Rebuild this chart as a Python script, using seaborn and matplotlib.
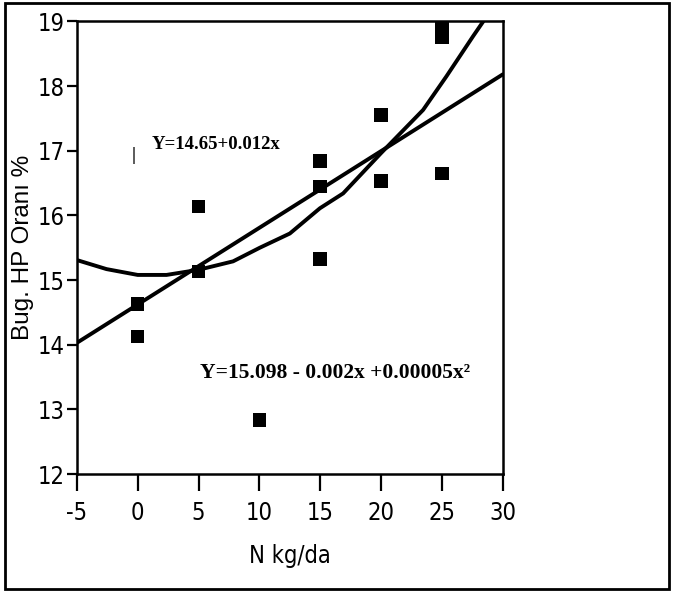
import matplotlib
matplotlib.use("Agg")
import matplotlib.pyplot as plt
import matplotlib.patches as patches
from matplotlib import font_manager
import pandas as pd
import seaborn as sns

# measured points (N dose, %)
n_dose = [0, 0, 5, 5, 10, 15, 15, 15, 20, 20, 25, 25, 25]
hp_ratio = [14.63, 14.13, 16.14, 15.13, 12.84, 16.84, 16.45, 15.33, 17.55, 16.53, 18.95, 18.75, 16.65]

# fitted lines
lin_x = [-5, 30]
lin_y = [14.03, 18.18]
quad_x = [-5, -2.56, 0, 2.37, 5.02, 7.84, 10.03, 12.5, 14.97, 16.88, 19.98, 23.45, 25.37, 27.56, 28.4]
quad_y = [15.31, 15.17, 15.08, 15.08, 15.16, 15.29, 15.5, 15.72, 16.11, 16.34, 16.96, 17.63, 18.15, 18.77, 19.0]

x_ticks = [-5, 0, 5, 10, 15, 20, 25, 30]
y_ticks = [12, 13, 14, 15, 16, 17, 18, 19]

sns.set_style("white")
fonts = font_manager.fontManager.ttflist
names = {f.name for f in fonts}
if "Liberation Sans Narrow" in names:
    tick_font = dict(family=["Liberation Sans Narrow", "DejaVu Sans"])
elif any(f.name == "DejaVu Sans" and f.stretch == "condensed" for f in fonts):
    tick_font = dict(family=["DejaVu Sans"], stretch="condensed")
else:
    tick_font = dict(family=["Liberation Sans", "DejaVu Sans"])
plt.rcParams["font.family"] = ["Liberation Sans", "DejaVu Sans"]
plt.rcParams["axes.unicode_minus"] = False
plt.rcParams["text.color"] = "black"
plt.rcParams["axes.labelcolor"] = "black"

fig = plt.figure(figsize=(6.74, 5.92), dpi=100)
ax = fig.add_axes([0.114, 0.199, 0.632, 0.765])

pts = pd.DataFrame({"N": n_dose, "HP": hp_ratio})
sns.scatterplot(data=pts, x="N", y="HP", marker="s", s=95, color="black",
                edgecolor="none", ax=ax, zorder=3)
sns.lineplot(x=lin_x, y=lin_y, color="black", lw=2.8, ax=ax)
sns.lineplot(x=quad_x, y=quad_y, color="black", lw=2.8, ax=ax)

ax.set_xlim(-5, 30)
ax.set_ylim(12, 19)
ax.set_xticks(x_ticks)
ax.set_yticks(y_ticks)
ax.set_xticklabels([str(t) for t in x_ticks], fontsize=17, **tick_font)
ax.set_yticklabels([str(t) for t in y_ticks], fontsize=17, **tick_font)
ax.tick_params(axis="x", direction="out", length=12, width=1.6, pad=7,
               bottom=True, colors="black")
ax.tick_params(axis="y", direction="out", length=7, width=1.6, pad=2,
               left=True, colors="black")
for sp in ax.spines.values():
    sp.set_visible(True)
    sp.set_color("black")
    sp.set_linewidth(1.8)

ax.set_xlabel("N kg/da", fontsize=17, labelpad=14, color="black", **tick_font)
ax.set_ylabel("Bug. HP Oranı %", fontsize=17.5, color="black")
ax.yaxis.set_label_coords(-0.1, 0.5)

eq_font = ["Liberation Serif", "DejaVu Serif"]
ax.text(1.15, 17.1, "Y=14.65+0.012x", fontsize=13.5, fontweight="bold",
        family=eq_font, va="center", ha="left", color="black")
ax.text(5.1, 13.56, "Y=15.098 - 0.002x +0.00005x²", fontsize=15.5,
        fontweight="bold", family=eq_font, va="center", ha="left", color="black")
ax.text(-0.35, 16.93, "|", fontsize=13, fontweight="bold", family=eq_font,
        va="center", ha="center", color="black")

fig.patches.append(patches.Rectangle((5 / 674, 3 / 592), 664 / 674, 586 / 592,
                                     transform=fig.transFigure, fill=False,
                                     edgecolor="black", lw=2))

fig.savefig("out.png", dpi=100)
